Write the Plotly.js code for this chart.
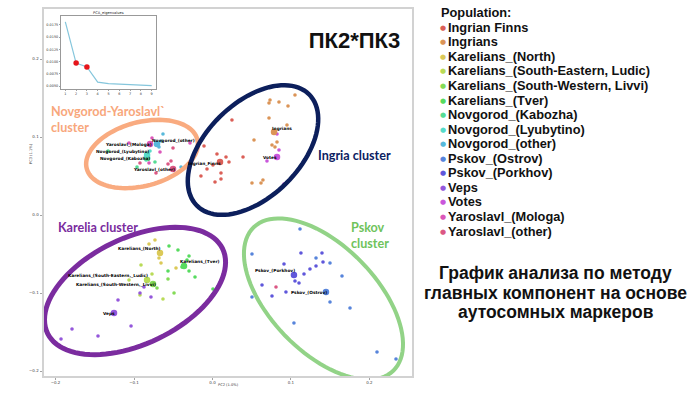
<!DOCTYPE html>
<html>
<head>
<meta charset="utf-8">
<script src="https://cdn.plot.ly/plotly-3.0.1.min.js"></script>
<style>html,body{margin:0;padding:0;background:#fff;}#chart{width:700px;height:394px;}</style>
</head>
<body>
<div id="chart"></div>
<script>
// ---------------- DATA ----------------
const populations = ['Ingrian Finns','Ingrians','Karelians_(North)','Karelians_(South-Eastern, Ludic)',
  'Karelians_(South-Western, Livvi)','Karelians_(Tver)','Novgorod_(Kabozha)','Novgorod_(Lyubytino)',
  'Novgorod_(other)','Pskov_(Ostrov)','Pskov_(Porkhov)','Veps','Votes','Yaroslavl_(Mologa)','Yaroslavl_(other)'];
const pointLabels = ['Ingrian_Finns','Ingrians','Karelians_(North)','Karelians_(South-Eastern,_Ludic)',
  'Karelians_(South-Western,_Livvi)','Karelians_(Tver)','Novgorod_(Kabozha)','Novgorod_(Lyubytino)',
  'Novgorod_(other)','Pskov_(Ostrov)','Pskov_(Porkhov)','Veps','Votes','Yaroslavl_(Mologa)','Yaroslavl_(other)'];

const ingrianFinnsPC2 = [0.0248,-0.0108,0.0057,0.0172,0.0389,0.0210,0.0006,-0.0070,0.0108,-0.0147,0.0108,0.0032];
const ingrianFinnsPC3 = [0.1218,0.0885,0.0782,0.0744,0.0744,0.0679,0.0641,0.0590,0.0538,0.0500,0.0462,0.0423];
const ingriansPC2 = [0.1051,0.0733,0.0720,0.0847,0.0962,0.0720,0.0949,0.0529,0.0822,0.0758,0.0796,0.0643,0.0618,0.0503];
const ingriansPC3 = [0.1538,0.1474,0.1436,0.1449,0.1397,0.1244,0.1154,0.0962,0.0936,0.0897,0.0872,0.0449,0.0410,0.0410];
const karNorthPC2 = [-0.0733,-0.0809,-0.0656,-0.0465,-0.0682];
const karNorthPC3 = [-0.0321,-0.0372,-0.0615,-0.0679,-0.0551];
const karLudicPC2 = [-0.0911,-0.0771,-0.1064,-0.0631,-0.0924];
const karLudicPC3 = [-0.0641,-0.0756,-0.0833,-0.1077,-0.1026];
const karLivviPC2 = [-0.0707,-0.0567,-0.0490];
const karLivviPC3 = [-0.0936,-0.0820,-0.1000];
const karTverPC2 = [-0.0554,-0.0440,-0.0299,-0.0325,-0.0389,-0.0299,-0.0223,-0.0567,0.0006];
const karTverPC3 = [-0.0397,-0.0449,-0.0526,-0.0577,-0.0667,-0.0718,-0.0795,-0.0718,-0.0949];
const novKabozhaPC2 = [-0.1331,-0.0962,-0.0733];
const novKabozhaPC3 = [0.0820,0.0615,0.0679];
const novLyubytinoPC2 = [-0.0822,-0.0847,-0.0796];
const novLyubytinoPC3 = [0.0795,0.0705,0.0820];
const novOtherPC2 = [-0.0631,-0.0682,-0.0401,-0.0656];
const novOtherPC3 = [0.1038,0.0872,0.0615,0.0949];
const pskOstrovPC2 = [0.1115,0.0503,0.1319,0.1497,0.1650,0.0503,0.1497,0.1752,0.1038,0.2096,0.2338];
const pskOstrovPC3 = [-0.0179,-0.0500,-0.0551,-0.0615,-0.0782,-0.1051,-0.1115,-0.1192,-0.1385,-0.1756,-0.1846];
const pskPorkhovPC2 = [0.1127,0.1395,0.1408,0.0911,0.1319,0.1242,0.1166,0.1051,0.1102,0.0631,0.0936,0.0758];
const pskPorkhovPC3 = [-0.0487,-0.0487,-0.0603,-0.0628,-0.0654,-0.0692,-0.0756,-0.0846,-0.0872,-0.0897,-0.0987,-0.1038];
const vepsPC2 = [-0.0873,-0.0924,-0.0784,-0.1204,-0.1038,-0.1790,-0.1459,-0.1930];
const vepsPC3 = [-0.0923,-0.1000,-0.1051,-0.1090,-0.1423,-0.1461,-0.1551,-0.1590];
const votesPC2 = [0.0822,0.0847,0.0694,0.0911];
const votesPC3 = [0.1038,0.0833,0.0692,0.0397];
const yarMologaPC2 = [-0.1064,-0.0771,-0.0669,-0.0287,-0.0809];
const yarMologaPC3 = [0.0923,0.0987,0.0808,0.0923,0.0667];
const yarOtherPC2 = [-0.0503,-0.0529,-0.0567,-0.0924,-0.0720,0.0809];
const yarOtherPC3 = [0.0859,0.0692,0.0654,0.0667,0.0538,-0.0923];

// population means (larger dots)
const meanPC2 = [0.0096,0.0784,-0.0669,-0.0834,-0.0758,-0.0363,-0.0834,-0.0834,-0.0707,0.1446,0.1038,-0.1255,0.0822,-0.0796,-0.0503];
const meanPC3 = [0.0679,0.1064,-0.0487,-0.0833,-0.0885,-0.0654,0.0731,0.0769,0.0910,-0.0987,-0.0769,-0.1256,0.0744,0.0910,0.0590];

// inset: PCA eigenvalues
const components = [1,2,3,4,5,6,7,8,9];
const eigenvalues = [0.0181,0.0097,0.0089,0.0058,0.0055,0.0054,0.0054,0.0052,0.0051];
const highlighted = [2,3];

const xTicks = [-0.2,-0.1,0.0,0.1,0.2];
const yTicks = [-0.2,-0.1,0.0,0.1,0.2];
const insetYTicks = [0.0050,0.0075,0.0100,0.0125,0.0150,0.0175];

const clusterNames = ['Novgorod-Yaroslavl`<br>cluster','Ingria cluster','Karelia cluster','Pskov<br>cluster'];
const captionLines = ['График анализа по методу','главных компонент на основе','аутосомных маркеров'];

// ---------------- STYLE / LAYOUT ----------------
const popPC2 = [ingrianFinnsPC2,ingriansPC2,karNorthPC2,karLudicPC2,karLivviPC2,karTverPC2,novKabozhaPC2,novLyubytinoPC2,novOtherPC2,pskOstrovPC2,pskPorkhovPC2,vepsPC2,votesPC2,yarMologaPC2,yarOtherPC2];
const popPC3 = [ingrianFinnsPC3,ingriansPC3,karNorthPC3,karLudicPC3,karLivviPC3,karTverPC3,novKabozhaPC3,novLyubytinoPC3,novOtherPC3,pskOstrovPC3,pskPorkhovPC3,vepsPC3,votesPC3,yarMologaPC3,yarOtherPC3];
const colors = populations.map((p,i)=>`hsl(${(3.6+24*i).toFixed(1)},65%,60%)`);
// label pixel shifts relative to population mean
const labelShift = [[-15.5,-2],[8,4],[-20.5,4],[-39,4],[-37,-1],[16,4],[-22,-1],[-24.5,3],[16.5,3],[-16.5,-1],[-19,4],[-5.5,-1],[-7,-1],[-22,-1],[-19,-1]];

const W=700,H=394,M={l:44,r:288,t:9,b:18};
const pxX = p => (p-M.l)/(W-M.l-M.r);
const pxY = p => (H-M.b-p)/(H-M.t-M.b);

function ellipsePath(cx,cy,a,b,deg){
  const t=deg*Math.PI/180; let d='';
  for(let i=0;i<=96;i++){
    const u=2*Math.PI*i/96;
    const x=cx+a*Math.cos(u)*Math.cos(t)-b*Math.sin(u)*Math.sin(t);
    const y=cy+a*Math.cos(u)*Math.sin(t)+b*Math.sin(u)*Math.cos(t);
    d+=(i?'L':'M')+x.toFixed(5)+','+y.toFixed(5);
  }
  return d+'Z';
}
const ellipses = [
  {c:[-0.0898,0.0782],a:0.0729,b:0.0409,deg:15,color:'#f9ab80',w:4.5},
  {c:[0.0516,0.0833],a:0.1010,b:0.0601,deg:45,color:'#0c1f5c',w:4.5},
  {c:[-0.0987,-0.0974],a:0.1240,b:0.0678,deg:26,color:'#7b2c9f',w:5},
  {c:[0.1414,-0.1077],a:0.1279,b:0.0678,deg:-46,color:'#92d387',w:4}
];

const traces = [];
populations.forEach((p,i)=>{
  traces.push({type:'scatter',mode:'markers',x:popPC2[i],y:popPC3[i],name:p,showlegend:false,
    marker:{color:colors[i],size:3.6,line:{width:0}},xaxis:'x',yaxis:'y',hoverinfo:'name'});
});
traces.push({type:'scatter',mode:'markers',x:meanPC2,y:meanPC3,showlegend:false,
  marker:{color:colors,size:6.5,line:{width:0}},xaxis:'x',yaxis:'y',hoverinfo:'skip'});
traces.push({type:'scatter',mode:'lines',x:components,y:eigenvalues,showlegend:false,
  line:{color:'#85c6dc',width:1.2},xaxis:'x2',yaxis:'y2'});
traces.push({type:'scatter',mode:'markers',x:highlighted,y:highlighted.map(c=>eigenvalues[c-1]),showlegend:false,
  marker:{color:'#e6151b',size:5.5},xaxis:'x2',yaxis:'y2'});

const tickFont = {family:'DejaVu Sans',size:4,color:'#444'};
const annotations = [];
const P = (x,y,o)=>Object.assign({x:pxX(x),y:pxY(y),xref:'paper',yref:'paper',showarrow:false,xanchor:'center',yanchor:'middle'},o);
// point labels
pointLabels.forEach((t,i)=>{
  annotations.push({text:t,x:meanPC2[i],y:meanPC3[i],xref:'x',yref:'y',showarrow:false,xanchor:'center',yanchor:'middle',
    xshift:labelShift[i][0],yshift:labelShift[i][1],
    font:{family:'DejaVu Sans',size:4.3,color:'#000',weight:'bold'}});
});
// cluster names
const clusterFont = (c)=>({family:'Lato',size:12.6,color:c,weight:'bold'});
annotations.push(P(49,119.5,{text:clusterNames[0],xanchor:'left',align:'left',font:clusterFont('#f8a77c')}));
annotations.push(P(316,155,{text:clusterNames[1],xanchor:'left',font:clusterFont('#0b2162')}));
annotations.push(P(56,227,{text:clusterNames[2],xanchor:'left',font:clusterFont('#7a2c9e')}));
annotations.push(P(349,236,{text:clusterNames[3],xanchor:'left',align:'left',font:clusterFont('#6fc35c')}));
// axis titles
annotations.push(P(31,154,{text:'PC3 (1.1%)',textangle:-90,font:{family:'DejaVu Sans',size:3.6,color:'#333'}}));
annotations.push(P(229,385,{text:'PC2 (1.0%)',font:{family:'DejaVu Sans',size:3.6,color:'#333'}}));
// inset title
annotations.push(P(108.5,13,{text:'PCA_eigenvalues',font:{family:'DejaVu Sans',size:3.6,color:'#222'}}));
// legend (manual)
annotations.push(P(439,12.5,{text:'Population:',xanchor:'left',font:{family:'Liberation Sans',size:12.8,color:'#111',weight:'bold'}}));
populations.forEach((p,i)=>{
  const yy = 27.3+i*14.55;
  annotations.push(P(443,yy+0.5,{text:'●',font:{family:'DejaVu Sans',size:7,color:colors[i]}}));
  annotations.push(P(446,yy,{text:p,xanchor:'left',font:{family:'Liberation Sans',size:12.8,color:'#111',weight:'bold'}}));
});
// caption
const capY=[273,292.5,312];
captionLines.forEach((t,i)=>{
  annotations.push(P(555.5,capY[i],{text:t,font:{family:'Liberation Sans',size:17.5,color:'#111',weight:'bold'}}));
});

const layout = {
  width:W,height:H,margin:M,paper_bgcolor:'#fff',plot_bgcolor:'#fff',showlegend:false,
  title:{text:'ПК2*ПК3',x:354.5/W,y:1-40/H,xref:'container',yref:'container',xanchor:'center',yanchor:'middle',
    font:{family:'Liberation Sans',size:22,color:'#111',weight:'bold'}},
  xaxis:{domain:[0,1],range:[-0.2147,0.2542],tickvals:xTicks,tickformat:'.1f',tickfont:tickFont,ticks:'outside',ticklen:1.5,tickcolor:'#666',tickwidth:0.6,
    showline:true,mirror:true,linecolor:'#d2d2d2',linewidth:2,zeroline:false,showgrid:false,automargin:false},
  yaxis:{domain:[0,1],range:[-0.2064,0.2641],tickvals:yTicks,tickformat:'.1f',tickfont:tickFont,ticks:'outside',ticklen:2.5,tickcolor:'#666',tickwidth:0.6,
    showline:true,mirror:true,linecolor:'#d2d2d2',linewidth:2,zeroline:false,showgrid:false,automargin:false},
  xaxis2:{domain:[pxX(61),pxX(156)],anchor:'y2',range:[0.6,9.4],tickvals:components,tickfont:{family:'DejaVu Sans',size:3.4,color:'#333'},
    ticks:'outside',ticklen:1.5,tickwidth:0.5,showline:true,mirror:true,linecolor:'#555',linewidth:0.6,showgrid:false,zeroline:false,automargin:false},
  yaxis2:{domain:[pxY(89),pxY(16)],anchor:'x2',range:[0.0044,0.0193],tickvals:insetYTicks,tickformat:'.4f',tickfont:{family:'DejaVu Sans',size:3.4,color:'#333'},
    ticks:'outside',ticklen:1.5,tickwidth:0.5,showline:true,mirror:true,linecolor:'#555',linewidth:0.6,showgrid:false,zeroline:false,automargin:false},
  shapes: ellipses.map(e=>({type:'path',xref:'x',yref:'y',path:ellipsePath(e.c[0],e.c[1],e.a,e.b,e.deg),line:{color:e.color,width:e.w},fillcolor:'rgba(0,0,0,0)',layer:'above'})),
  annotations
};
Plotly.newPlot('chart',traces,layout,{displayModeBar:false,staticPlot:true});
</script>
</body>
</html>
